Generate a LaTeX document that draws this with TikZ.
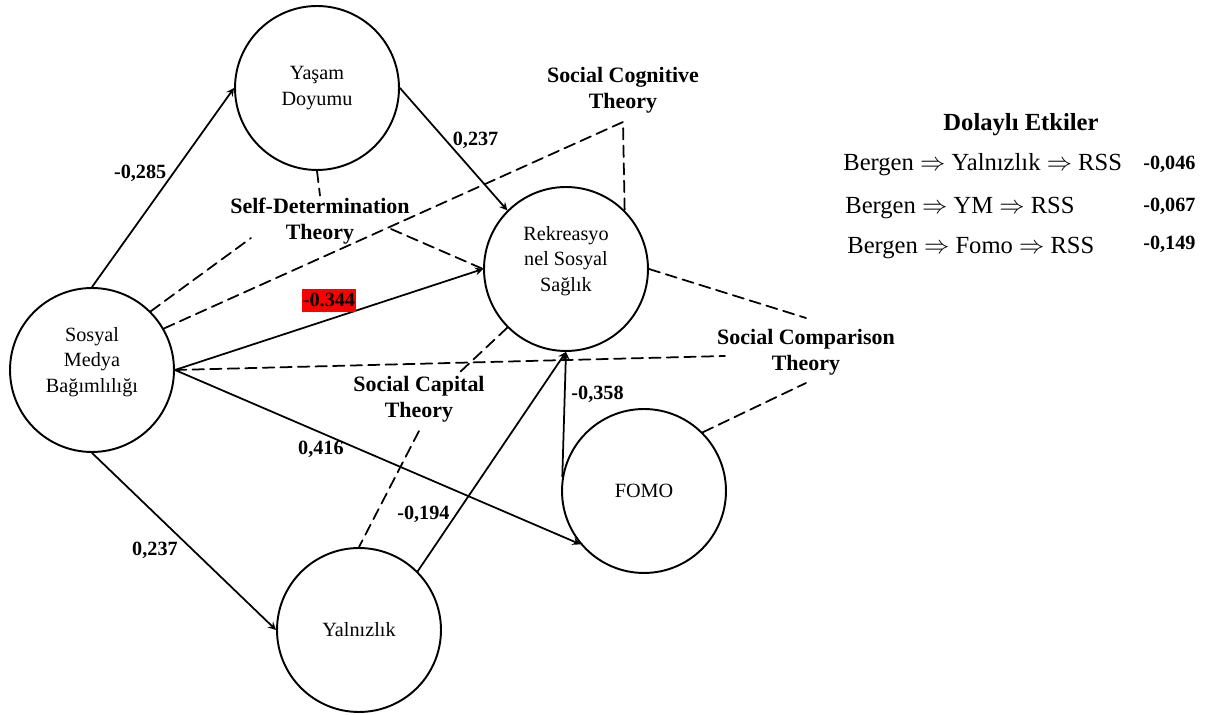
\documentclass[tikz,border=0pt]{standalone}
\usepackage{fontspec}
\setmainfont{Liberation Serif}
\usetikzlibrary{arrows}

\begin{document}
\begin{tikzpicture}[x=0.02cm, y=-0.02cm, line cap = round, line join = round, >=stealth]
\tikzstyle{construct}=[circle, draw=black, line width=1.1pt, minimum size=3.28cm, inner sep=0pt, align=center, font=\fontsize{11.5}{14.5}\selectfont]
\tikzstyle{theory}=[align=center, inner sep=1pt, font=\fontsize{12.5}{15}\selectfont\bfseries]
\tikzstyle{coef}=[font=\fontsize{11.5}{13}\selectfont\bfseries]
\tikzstyle{effect}=[line width=1pt, ->]
\tikzstyle{relation}=[line width=1pt, dash pattern=on 6.5pt off 3.5pt]
\useasboundingbox (0,0) rectangle (1208,715);

% constructs
\node[construct] (sm)   at (92,370)  {Sosyal\\Medya\\Bağımlılığı\\[-7pt]\strut};
\node[construct] (yd)   at (317,88)  {Yaşam\\Doyumu};
\node[construct] (rss)  at (566,269) {Rekreasyo\\nel Sosyal\\Sağlık\\[-7pt]\strut};
\node[construct] (fomo) at (644,491) {FOMO};
\node[construct] (yal)  at (359,630) {Yalnızlık};

% theories
\node[theory] (sdt)  at (320,221) {Self-Determination\\Theory};
\node[theory] (scog) at (623,90)  {Social Cognitive\\Theory};
\node[theory] (scap) at (419,399) {Social Capital\\Theory};
\node[theory] (scmp) at (806,352) {Social Comparison\\Theory};
\coordinate (sdtl)  at (251,238);
\coordinate (sdtr)  at (391,229);
\coordinate (scogc) at (623,122);
\coordinate (scap1) at (459,373);
\coordinate (scap2) at (419,431);
\coordinate (scmpl) at (725,356);
\coordinate (scmpt) at (806,318);
\coordinate (scmpb) at (806,383);

\draw[relation] (yd.south) -- (sdt.north);
\draw[relation] (sm.north east) -- (sdtl);
\draw[relation] (sdtr) -- (rss.west);
\draw[relation] (sm.30) -- (scogc) -- (rss.north east);
\draw[relation] (rss.south west) -- (scap1);
\draw[relation] (scap2) -- (yal.north);
\draw[relation] (sm.east) -- (scmpl);
\draw[relation] (rss.east) -- (scmpt);
\draw[relation] (fomo.north east) -- (scmpb);

% direct effects
\draw[effect] (sm.north) -- (yd.west) node[coef, pos=0.57, left] {-0,285};
\draw[effect] (yd.east) -- (rss.north west) node[coef, pos=0.43, right] {0,237};
\draw[effect] (sm.east) -- (rss.west) node[coef, pos=0.5, above=4pt, fill=red, inner xsep=0.5pt, inner ysep=1pt, text height=9pt, text depth=2pt] {-0.344};
\draw[effect] (sm.east) -- (fomo.220) node[coef, pos=0.36, below=1pt] {0,416};
\draw[effect] (sm.south) -- (yal.west) node[coef, pos=0.55, left=5pt] {0,237};
\draw[effect] (yal.north east) -- (rss.south) node[coef, pos=0.26, left=0pt] {-0,194};
\draw[effect] (fomo.170) -- (rss.south) node[coef, pos=0.66, right] {-0,358};

% indirect effects
\node[font=\fontsize{14}{16}\selectfont\bfseries] (ind) at (1021,125) {Dolaylı Etkiler};
\node[anchor=west, inner sep=0pt, font=\fontsize{14}{16}\selectfont] (ind1) at (843,165) {Bergen $\Rightarrow$ Yalnızlık $\Rightarrow$ RSS};
\node[anchor=west, inner sep=0pt, font=\fontsize{14}{16}\selectfont] (ind2) at (845,208) {Bergen $\Rightarrow$ YM $\Rightarrow$ RSS};
\node[anchor=west, inner sep=0pt, font=\fontsize{14}{16}\selectfont] (ind3) at (847,248) {Bergen $\Rightarrow$ Fomo $\Rightarrow$ RSS};
\node[coef, anchor=west, inner sep=0pt] (val1) at (1143,164) {-0,046};
\node[coef, anchor=west, inner sep=0pt] (val2) at (1143,206) {-0,067};
\node[coef, anchor=west, inner sep=0pt] (val3) at (1143,244) {-0,149};
\end{tikzpicture}
\end{document}
